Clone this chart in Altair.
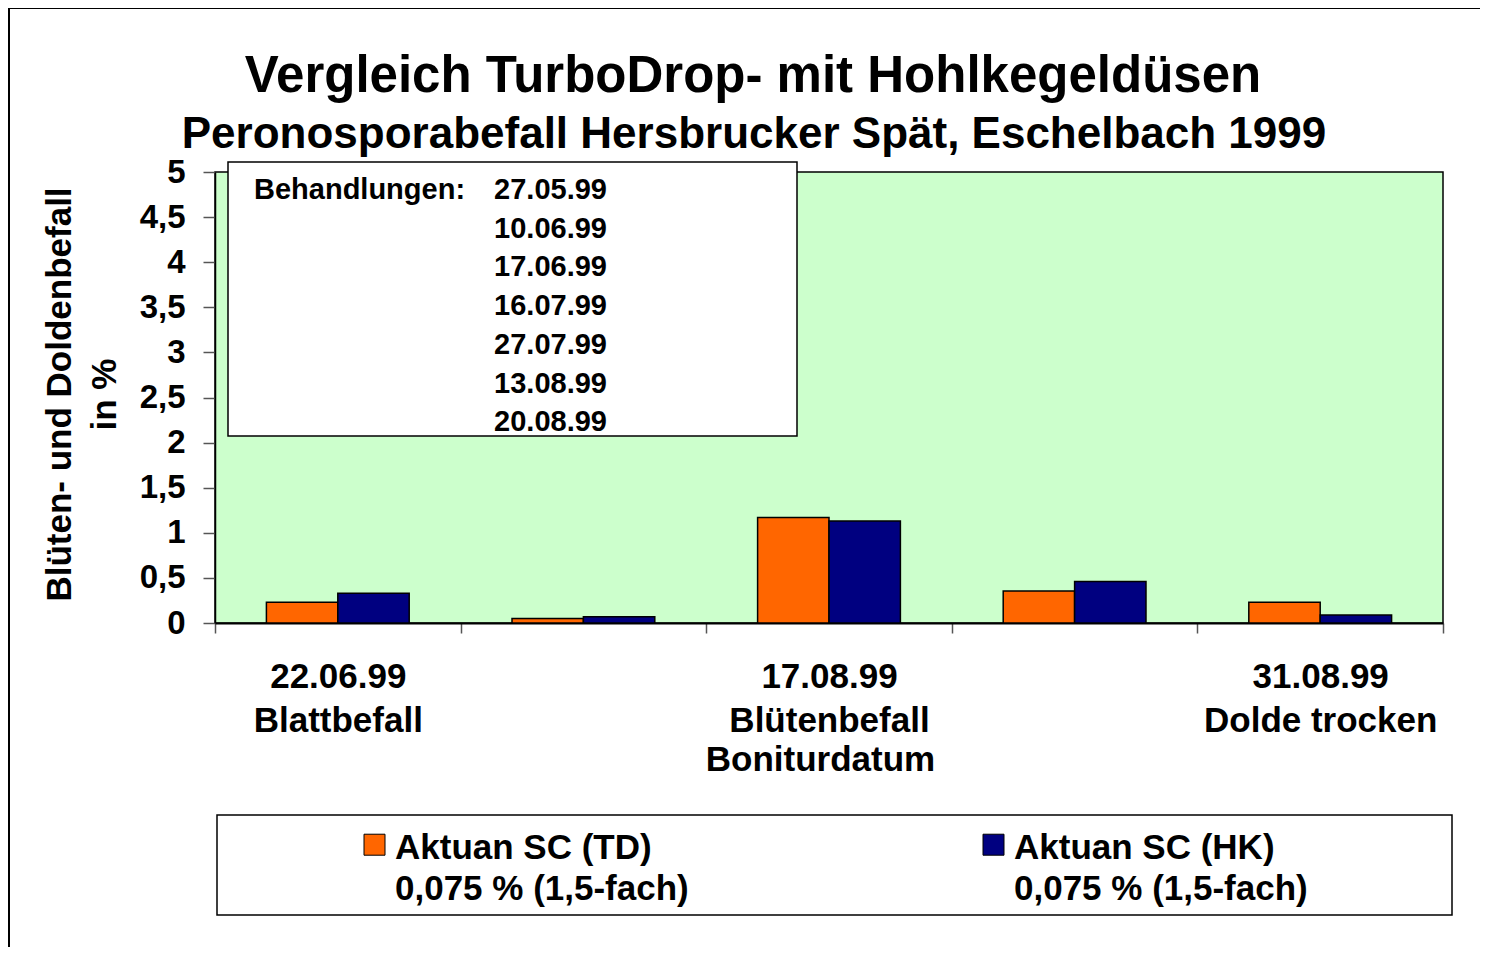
import altair as alt
import pandas as pd

# ---------------- data ----------------
categories = ["c1", "c2", "c3", "c4", "c5"]
cat_dates = ["22.06.99", "", "17.08.99", "", "31.08.99"]
cat_types = ["Blattbefall", "", "Blütenbefall", "", "Dolde trocken"]
series = ["Aktuan SC (TD)", "Aktuan SC (HK)"]
dose = "0,075 % (1,5-fach)"
td_values = [0.23, 0.05, 1.17, 0.355, 0.23]
hk_values = [0.33, 0.07, 1.13, 0.46, 0.09]
y_ticks = [0, 0.5, 1, 1.5, 2, 2.5, 3, 3.5, 4, 4.5, 5]
treatment_label = "Behandlungen:"
treatment_dates = ["27.05.99", "10.06.99", "17.06.99", "16.07.99",
                   "27.07.99", "13.08.99", "20.08.99"]
title_text = "Vergleich TurboDrop- mit Hohlkegeldüsen"
subtitle_text = "Peronosporabefall Hersbrucker Spät, Eschelbach 1999"
y_title = ["Blüten- und Doldenbefall", "in %"]
x_title = "Boniturdatum"
colors = ["#FF6600", "#000080"]

rows = []
for i, c in enumerate(categories):
    rows.append({"cat": c, "series": series[0], "value": td_values[i]})
    rows.append({"cat": c, "series": series[1], "value": hk_values[i]})
df = pd.DataFrame(rows)

FONT = "Liberation Sans"
W, H = 1228, 451

parts = []
for c, d, t in zip(categories, cat_dates, cat_types):
    if d:
        parts.append(f"datum.value == '{c}' ? ['{d}', '{t}']")
label_expr = " : ".join(parts) + " : ''"

bars = alt.Chart(df).mark_bar(stroke="black", strokeWidth=1.5).encode(
    x=alt.X(
        "cat:N", sort=categories,
        scale=alt.Scale(paddingInner=0, paddingOuter=0),
        axis=alt.Axis(
            title=x_title, labelExpr=label_expr, labelAngle=0, labelOverlap=False,
            tickBand="extent", tickSize=10, tickColor="#555", tickWidth=1.5,
            domainColor="black", domainWidth=2,
            labelFont=FONT, labelFontSize=35, labelFontWeight="bold",
            labelColor="black", labelLineHeight=44, labelPadding=26, labelLimit=0,
            titleFont=FONT, titleFontSize=35, titleFontWeight="bold", titleColor="black",
            titleX=605, titleY=147, titleBaseline="alphabetic", titleAlign="center",
        ),
    ),
    xOffset=alt.XOffset("series:N", sort=series,
                        scale=alt.Scale(paddingInner=0, paddingOuter=0.72)),
    y=alt.Y(
        "value:Q",
        scale=alt.Scale(domain=[0, 5], nice=False),
        axis=alt.Axis(
            values=y_ticks, grid=False,
            labelExpr="replace(toString(datum.value), '.', ',')",
            tickSize=12, tickColor="#555", tickWidth=1.5,
            domainColor="black", domainWidth=1.5,
            labelFont=FONT, labelFontSize=33, labelFontWeight="bold",
            labelColor="black", labelPadding=18,
            title=y_title, titleFont=FONT, titleFontSize=35, titleFontWeight="bold",
            titleColor="black", titleLineHeight=45, titleAngle=270,
            titleX=-145, titleY=222, titleAlign="center", titleBaseline="alphabetic",
        ),
    ),
    color=alt.Color(
        "series:N", sort=series,
        scale=alt.Scale(domain=series, range=colors),
        legend=alt.Legend(
            title=None, orient="none", legendX=142, legendY=641,
            direction="horizontal", columns=2, columnPadding=287,
            symbolType="M-1,0.33H1V2.33H-1Z", symbolSize=441,
            symbolStrokeColor="black", symbolStrokeWidth=1, symbolOpacity=1,
            labelFont=FONT, labelFontSize=35, labelFontWeight="bold",
            labelColor="black", labelBaseline="top",
            labelOffset=3, labelLimit=0, padding=0,
            labelExpr=f"[datum.label, '{dose}']",
        ),
    ),
)

one = alt.Data(values=[{}])

inset_box = alt.Chart(one).mark_rect(fill="white", stroke="black", strokeWidth=1.5).encode(
    x=alt.value(13), x2=alt.value(582), y=alt.value(-10), y2=alt.value(264)
)
inset_label = alt.Chart(one).mark_text(
    text=treatment_label, font=FONT, fontSize=29, fontWeight="bold",
    align="left", baseline="alphabetic", color="black"
).encode(x=alt.value(39), y=alt.value(27))
inset_dates = alt.Chart(one).mark_text(
    text=treatment_dates, font=FONT, fontSize=29, fontWeight="bold",
    align="right", baseline="alphabetic", lineHeight=38.7, color="black"
).encode(x=alt.value(392), y=alt.value(27))

legend_box = alt.Chart(one).mark_rect(fill="white", stroke="black", strokeWidth=1.5).encode(
    x=alt.value(2), x2=alt.value(1237), y=alt.value(643), y2=alt.value(743)
)

frame = alt.Chart(one).mark_rect(fillOpacity=0, stroke="black", strokeWidth=2).encode(
    x=alt.value(-206), x2=alt.value(1400), y=alt.value(-164), y2=alt.value(900)
)

title = alt.Chart(one).mark_text(
    text=title_text, font=FONT, fontSize=51, fontWeight="bold",
    align="center", baseline="alphabetic", color="black"
).encode(x=alt.value(538), y=alt.value(-80))
subtitle = alt.Chart(one).mark_text(
    text=subtitle_text, font=FONT, fontSize=44, fontWeight="bold",
    align="center", baseline="alphabetic", color="black"
).encode(x=alt.value(539), y=alt.value(-24))

chart = alt.layer(
    frame, legend_box, bars, inset_box, inset_label, inset_dates, title, subtitle
).properties(
    width=W, height=H,
    autosize=alt.AutoSizeParams(type="none"),
    padding={"left": 207, "top": 164, "right": 37, "bottom": 324},
).configure(
    background="white",
    style={"guide-label": {"lineHeight": 41}},
    view=alt.ViewConfig(fill="#CCFFCC", stroke="black", strokeWidth=1.5),
)

chart.save("out.html", embed_options={"renderer": "svg", "actions": False})
